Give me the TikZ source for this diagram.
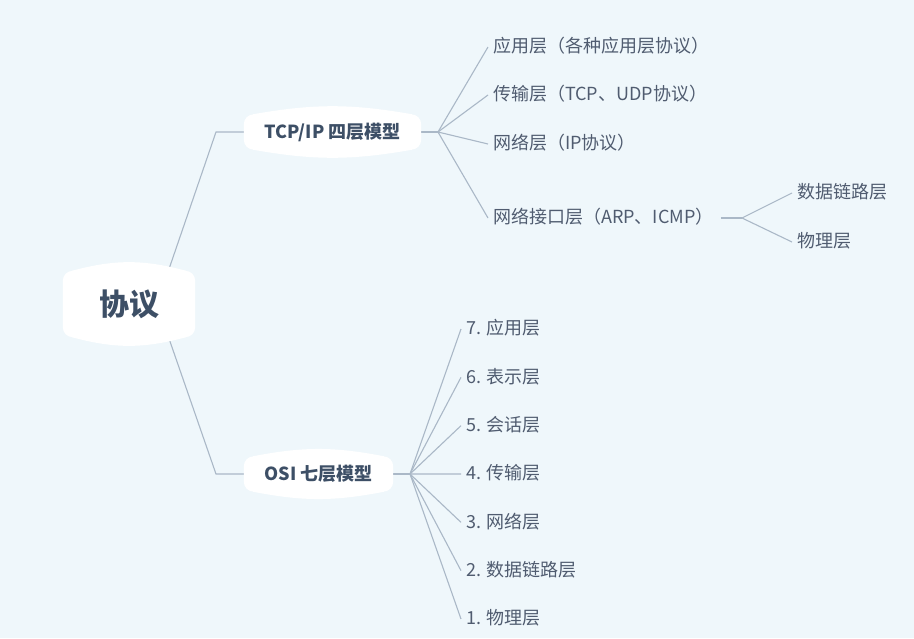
\documentclass[tikz,border=0pt]{standalone}
\usepackage{fontspec}
\setmainfont{Noto Sans CJK SC}
\usepackage{xcolor}
\usetikzlibrary{backgrounds,positioning,calc}
\definecolor{bgcol}{RGB}{239,247,251}
\definecolor{topiccol}{RGB}{61,79,102}
\definecolor{leafcol}{RGB}{80,92,112}
\definecolor{linkcol}{RGB}{170,184,199}
\tikzset{
  rootnode/.style={font=\bfseries\fontsize{30}{32}\selectfont, text=topiccol,
    minimum width=132, minimum height=66, inner sep=0},
  topicnode/.style={font=\bfseries\fontsize{18}{20}\selectfont, text=topiccol,
    minimum height=35, inner sep=0},
  leaf/.style={font=\fontsize{18}{20}\selectfont, text=leafcol, anchor=west,
    inner xsep=5, inner ysep=0, text height=1.16em, text depth=0em},
  link/.style={draw=linkcol, line width=1.1pt},
}
% weisse Blase mit gewoelbter Ober- und Unterkante
\newcommand{\bubble}[2]{%
  \fill[white, rounded corners=10] (#1.south west) rectangle (#1.north east);
  \fill[white] ([xshift=9]#1.north west) to[bend left=#2] ([xshift=-9]#1.north east)
    -- ([xshift=-9]#1.south east) to[bend left=#2] ([xshift=9]#1.south west) -- cycle;
}

\begin{document}
\begin{tikzpicture}[x=1pt, y=-1pt]
  \useasboundingbox (0,0) rectangle (914,638);

  % Hauptknoten
  \node[rootnode] (root) at (129,304) {协议};
  \node[topicnode, minimum width=177] (tcp) at (332.5,132) {TCP/IP 四层模型};
  \node[topicnode, minimum width=149] (osi) at (318.5,474) {OSI 七层模型};

  % TCP/IP
  \node[leaf] (t1) at (488,47)  {应用层（各种应用层协议）};
  \node[leaf] (t2) at (488,95)  {传输层（TCP、UDP协议）};
  \node[leaf] (t3) at (488,144) {网络层（IP协议）};
  \node[leaf] (t4) at (488,218) {网络接口层（ARP、ICMP）};
  \node[leaf] (d1) at (792,193) {数据链路层};
  \node[leaf] (d2) at (792,242) {物理层};

  % OSI
  \foreach \i/\lbl in {7/应用层, 6/表示层, 5/会话层, 4/传输层, 3/网络层, 2/数据链路层, 1/物理层}
    \node[leaf] (o\i) at (461,{329+48.33*(7-\i)}) {\i. \lbl};

  % Knickpunkte
  \coordinate (tcpbend) at (216,132);
  \coordinate (osibend) at (216,474);
  \coordinate (tcpfan) at (438,132);
  \coordinate (osifan) at (410,474);
  \coordinate (ifacefan) at (742,218);

  \begin{scope}[on background layer]
    \fill[bgcol] (0,0) rectangle (914,638);
    % Verbindungen
    \draw[link] ($(root.center)+(28,0)$) -- (tcpbend) -- (tcp.west);
    \draw[link] ($(root.center)+(28,0)$) -- (osibend) -- (osi.west);
    \draw[link] (tcp.east) -- (tcpfan);
    \foreach \n in {t1,t2,t3,t4}
      \draw[link] (tcpfan) -- (\n.west);
    \draw[link] ([xshift=2]t4.east) -- (ifacefan);
    \foreach \n in {d1,d2}
      \draw[link] (ifacefan) -- (\n.west);
    \draw[link] (osi.east) -- (osifan);
    \foreach \i in {1,...,7}
      \draw[link] (osifan) -- (o\i.west);
    % Blasen
    \bubble{root}{15}
    \bubble{tcp}{10}
    \bubble{osi}{11}
  \end{scope}
\end{tikzpicture}
\end{document}
